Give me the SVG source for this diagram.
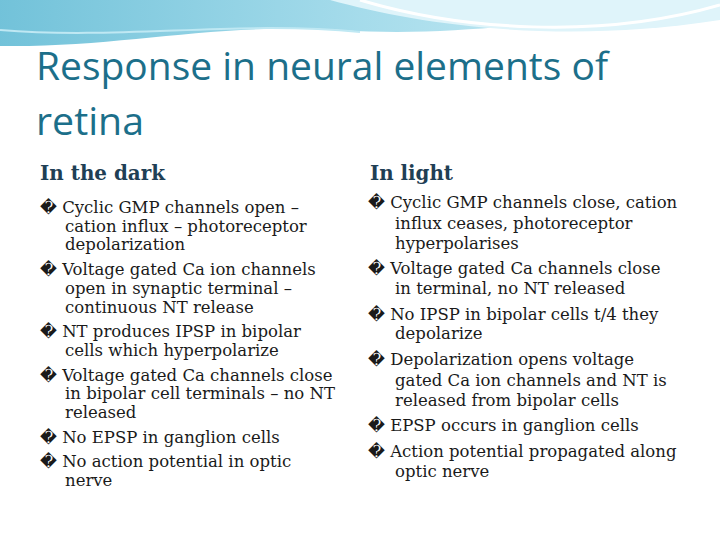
<svg xmlns="http://www.w3.org/2000/svg" width="720" height="540" viewBox="0 0 720 540">
<defs>
<linearGradient id="g" x1="0" y1="0" x2="1" y2="0"><stop offset="0" stop-color="#4fb3d0"/><stop offset="0.5" stop-color="#8fd3e6"/><stop offset="1" stop-color="#c8ecf5"/></linearGradient>
<style>
.t{font-family:"Open Sans","Liberation Sans",sans-serif;font-size:38px;fill:#1c6f8a}
.h{font-family:"DejaVu Serif",serif;font-size:21px;fill:#1f3f55;font-weight:bold}
.b{font-family:"DejaVu Serif",serif;font-size:16.5px;fill:#1a1a1a}
</style>
</defs>
<rect width="720" height="540" fill="#fff"/>
<g id="decor">
<path d="M0 0H720V18C600 8 480 40 340 30C220 22 120 48 0 46Z" fill="url(#g)" opacity="0.8"/>
<path d="M330 0C420 25 560 45 720 20V0Z" fill="#dff4fa"/>
<path d="M360 0C460 30 600 40 720 5" fill="none" stroke="#fff" stroke-width="3"/>
<path d="M0 30C120 40 240 20 360 32" fill="none" stroke="#bfe8f3" stroke-width="2"/>
</g>
<g id="title"><text class="t" x="36" y="80" textLength="572" lengthAdjust="spacingAndGlyphs">Response in neural elements of</text><text class="t" x="36" y="135" textLength="108" lengthAdjust="spacingAndGlyphs">retina</text></g>
<g id="left">
<text class="h" x="40" y="180" textLength="125" lengthAdjust="spacingAndGlyphs">In the dark</text>
<g class="b">
<text x="40" y="213">� Cyclic GMP channels open –</text>
<text x="65" y="232">cation influx – photoreceptor</text>
<text x="65" y="250">depolarization</text>
<text x="40" y="275">� Voltage gated Ca ion channels</text>
<text x="65" y="294">open in synaptic terminal –</text>
<text x="65" y="313">continuous NT release</text>
<text x="40" y="337">� NT produces IPSP in bipolar</text>
<text x="65" y="356">cells which hyperpolarize</text>
<text x="40" y="381">� Voltage gated Ca channels close</text>
<text x="65" y="399">in bipolar cell terminals – no NT</text>
<text x="65" y="418">released</text>
<text x="40" y="443">� No EPSP in ganglion cells</text>
<text x="40" y="467">� No action potential in optic</text>
<text x="65" y="486">nerve</text>
</g>
</g>
<g id="right">
<text class="h" x="370" y="180" textLength="83" lengthAdjust="spacingAndGlyphs">In light</text>
<g class="b">
<text x="368" y="208">� Cyclic GMP channels close, cation</text>
<text x="395" y="229">influx ceases, photoreceptor</text>
<text x="395" y="249">hyperpolarises</text>
<text x="368" y="274">� Voltage gated Ca channels close</text>
<text x="395" y="294">in terminal, no NT released</text>
<text x="368" y="320">� No IPSP in bipolar cells t/4 they</text>
<text x="395" y="339">depolarize</text>
<text x="368" y="365">� Depolarization opens voltage</text>
<text x="395" y="386">gated Ca ion channels and NT is</text>
<text x="395" y="406">released from bipolar cells</text>
<text x="368" y="431">� EPSP occurs in ganglion cells</text>
<text x="368" y="457">� Action potential propagated along</text>
<text x="395" y="477">optic nerve</text>
</g>
</g>
</svg>
